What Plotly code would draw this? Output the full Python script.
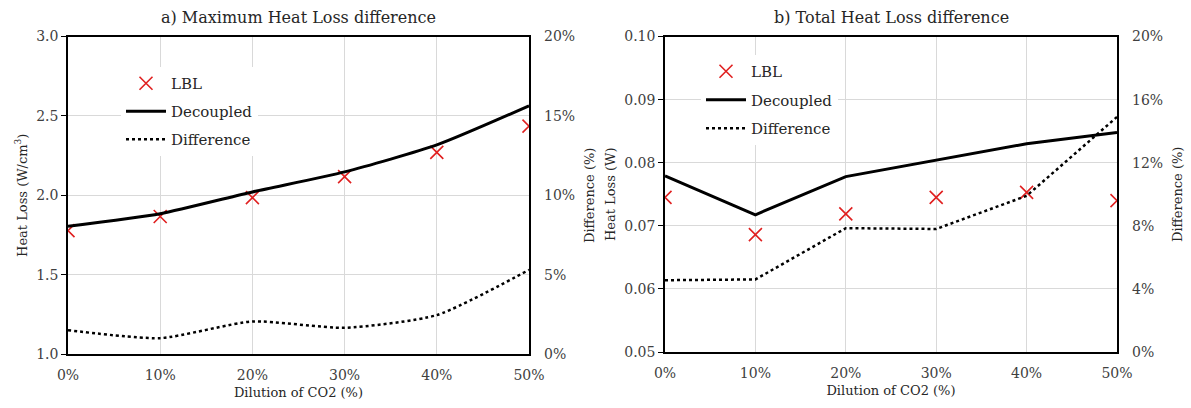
import plotly.graph_objects as go

# Dilution of CO2 (%)
dilution = [0, 10, 20, 30, 40, 50]

# a) Maximum heat loss (W/cm^3) and relative difference (%)
max_lbl = [1.777, 1.866, 1.985, 2.117, 2.270, 2.435]
max_decoupled = [1.805, 1.884, 2.021, 2.147, 2.317, 2.563]
max_difference = [1.5, 1.0, 2.05, 1.65, 2.45, 5.3]

# b) Total heat loss (W) and relative difference (%)
tot_lbl = [0.0745, 0.0686, 0.0719, 0.0745, 0.0753, 0.0740]
tot_decoupled = [0.0779, 0.07175, 0.0778, 0.0804, 0.0830, 0.0848]
tot_difference = [4.55, 4.6, 7.85, 7.8, 9.9, 14.9]

x_ticks = [0, 10, 20, 30, 40, 50]
x_ticklabels = ["0%", "10%", "20%", "30%", "40%", "50%"]

W, H = 1191, 408
FONT = "DejaVu Serif"
TICK_COLOR = "#404040"
GRID = "#d9d9d9"
RED = "#e02020"


def px_x(p):
    return p / W


def px_y(p):
    return 1 - p / H


fig = go.Figure()

# Panel a
fig.add_trace(go.Scatter(x=dilution, y=max_lbl, mode="markers", name="LBL",
                         marker=dict(symbol="x-thin-open", size=13, color=RED,
                                     line=dict(color=RED, width=1.6)),
                         xaxis="x", yaxis="y", legend="legend", legendgroup="a1"))
fig.add_trace(go.Scatter(x=dilution, y=max_decoupled, mode="lines", name="Decoupled",
                         line=dict(color="black", width=3, shape="spline", smoothing=0.6),
                         xaxis="x", yaxis="y", legend="legend", legendgroup="a2"))
fig.add_trace(go.Scatter(x=dilution, y=max_difference, mode="lines", name="Difference",
                         line=dict(color="black", width=2.5, dash="dot", shape="spline", smoothing=0.6),
                         xaxis="x", yaxis="y2", legend="legend", legendgroup="a3"))

# Panel b
fig.add_trace(go.Scatter(x=dilution, y=tot_lbl, mode="markers", name="LBL",
                         marker=dict(symbol="x-thin-open", size=13, color=RED,
                                     line=dict(color=RED, width=1.6)),
                         xaxis="x2", yaxis="y3", legend="legend2", legendgroup="b1"))
fig.add_trace(go.Scatter(x=dilution, y=tot_decoupled, mode="lines", name="Decoupled",
                         line=dict(color="black", width=3),
                         xaxis="x2", yaxis="y3", legend="legend2", legendgroup="b2"))
fig.add_trace(go.Scatter(x=dilution, y=tot_difference, mode="lines", name="Difference",
                         line=dict(color="black", width=2.5, dash="dot"),
                         xaxis="x2", yaxis="y4", legend="legend2", legendgroup="b3"))

tick_font = dict(family=FONT, size=14, color=TICK_COLOR)
title_font = dict(family=FONT, size=13, color="#262626")

xcommon = dict(range=[0, 50], tickmode="array", tickvals=x_ticks, ticktext=x_ticklabels,
               showgrid=True, gridcolor=GRID, gridwidth=1, zeroline=False,
               showline=True, linecolor="black", linewidth=1.5, mirror=True,
               ticks="", tickfont=tick_font, ticklabelstandoff=7,
               title=dict(text="Dilution of CO2 (%)", font=title_font, standoff=6),
               automargin=False, fixedrange=True)
ycommon = dict(showgrid=True, gridcolor=GRID, gridwidth=1, zeroline=False,
               showline=True, linecolor="black", linewidth=1.5, mirror=True,
               ticks="outside", ticklen=5, tickcolor="black", tickwidth=1,
               tickfont=tick_font, automargin=False, fixedrange=True)
y2common = dict(showgrid=False, zeroline=False, showline=False, side="right",
                ticks="", tickfont=tick_font, ticksuffix="%", ticklabelstandoff=14,
                automargin=False, fixedrange=True,
                title=dict(text="Difference (%)", font=title_font, standoff=10))

dom_y_a = [px_y(354), px_y(36.5)]
dom_y_b = [px_y(352), px_y(36.5)]

legend_font = dict(family=FONT, size=15, color="#262626")

fig.update_layout(
    width=W, height=H,
    margin=dict(l=0, r=0, t=0, b=0),
    paper_bgcolor="white", plot_bgcolor="white",
    font=dict(family=FONT, color="#262626"),
    xaxis=dict(xcommon, domain=[px_x(68), px_x(529)], anchor="y"),
    yaxis=dict(ycommon, domain=dom_y_a, anchor="x", range=[1.0, 3.0], dtick=0.5,
               tickformat=".1f",
               title=dict(text="Heat Loss (W/cm<sup>3</sup>)", font=title_font, standoff=6)),
    yaxis2=dict(y2common, overlaying="y", anchor="x", range=[0, 20], dtick=5),
    xaxis2=dict(xcommon, domain=[px_x(665), px_x(1117)], anchor="y3"),
    yaxis3=dict(ycommon, domain=dom_y_b, anchor="x2", range=[0.05, 0.10], dtick=0.01,
                tickformat=".2f",
                title=dict(text="Heat Loss (W)", font=title_font, standoff=6)),
    yaxis4=dict(y2common, overlaying="y3", anchor="x2", range=[0, 20], dtick=4),
    legend=dict(x=px_x(121), y=px_y(67), xanchor="left", yanchor="top",
                bgcolor="white", borderwidth=0, tracegroupgap=5.5,
                font=legend_font, itemwidth=40),
    legend2=dict(x=px_x(701), y=px_y(55), xanchor="left", yanchor="top",
                 bgcolor="white", borderwidth=0, tracegroupgap=6,
                 font=legend_font, itemwidth=40),
    annotations=[
        dict(text="a) Maximum Heat Loss difference", x=(px_x(68) + px_x(529)) / 2, y=px_y(18),
             xref="paper", yref="paper", showarrow=False, xanchor="center", yanchor="middle",
             font=dict(family=FONT, size=16, color="#262626")),
        dict(text="b) Total Heat Loss difference", x=(px_x(665) + px_x(1117)) / 2, y=px_y(18),
             xref="paper", yref="paper", showarrow=False, xanchor="center", yanchor="middle",
             font=dict(family=FONT, size=16, color="#262626")),
    ],
)

fig.write_html("out.html")
